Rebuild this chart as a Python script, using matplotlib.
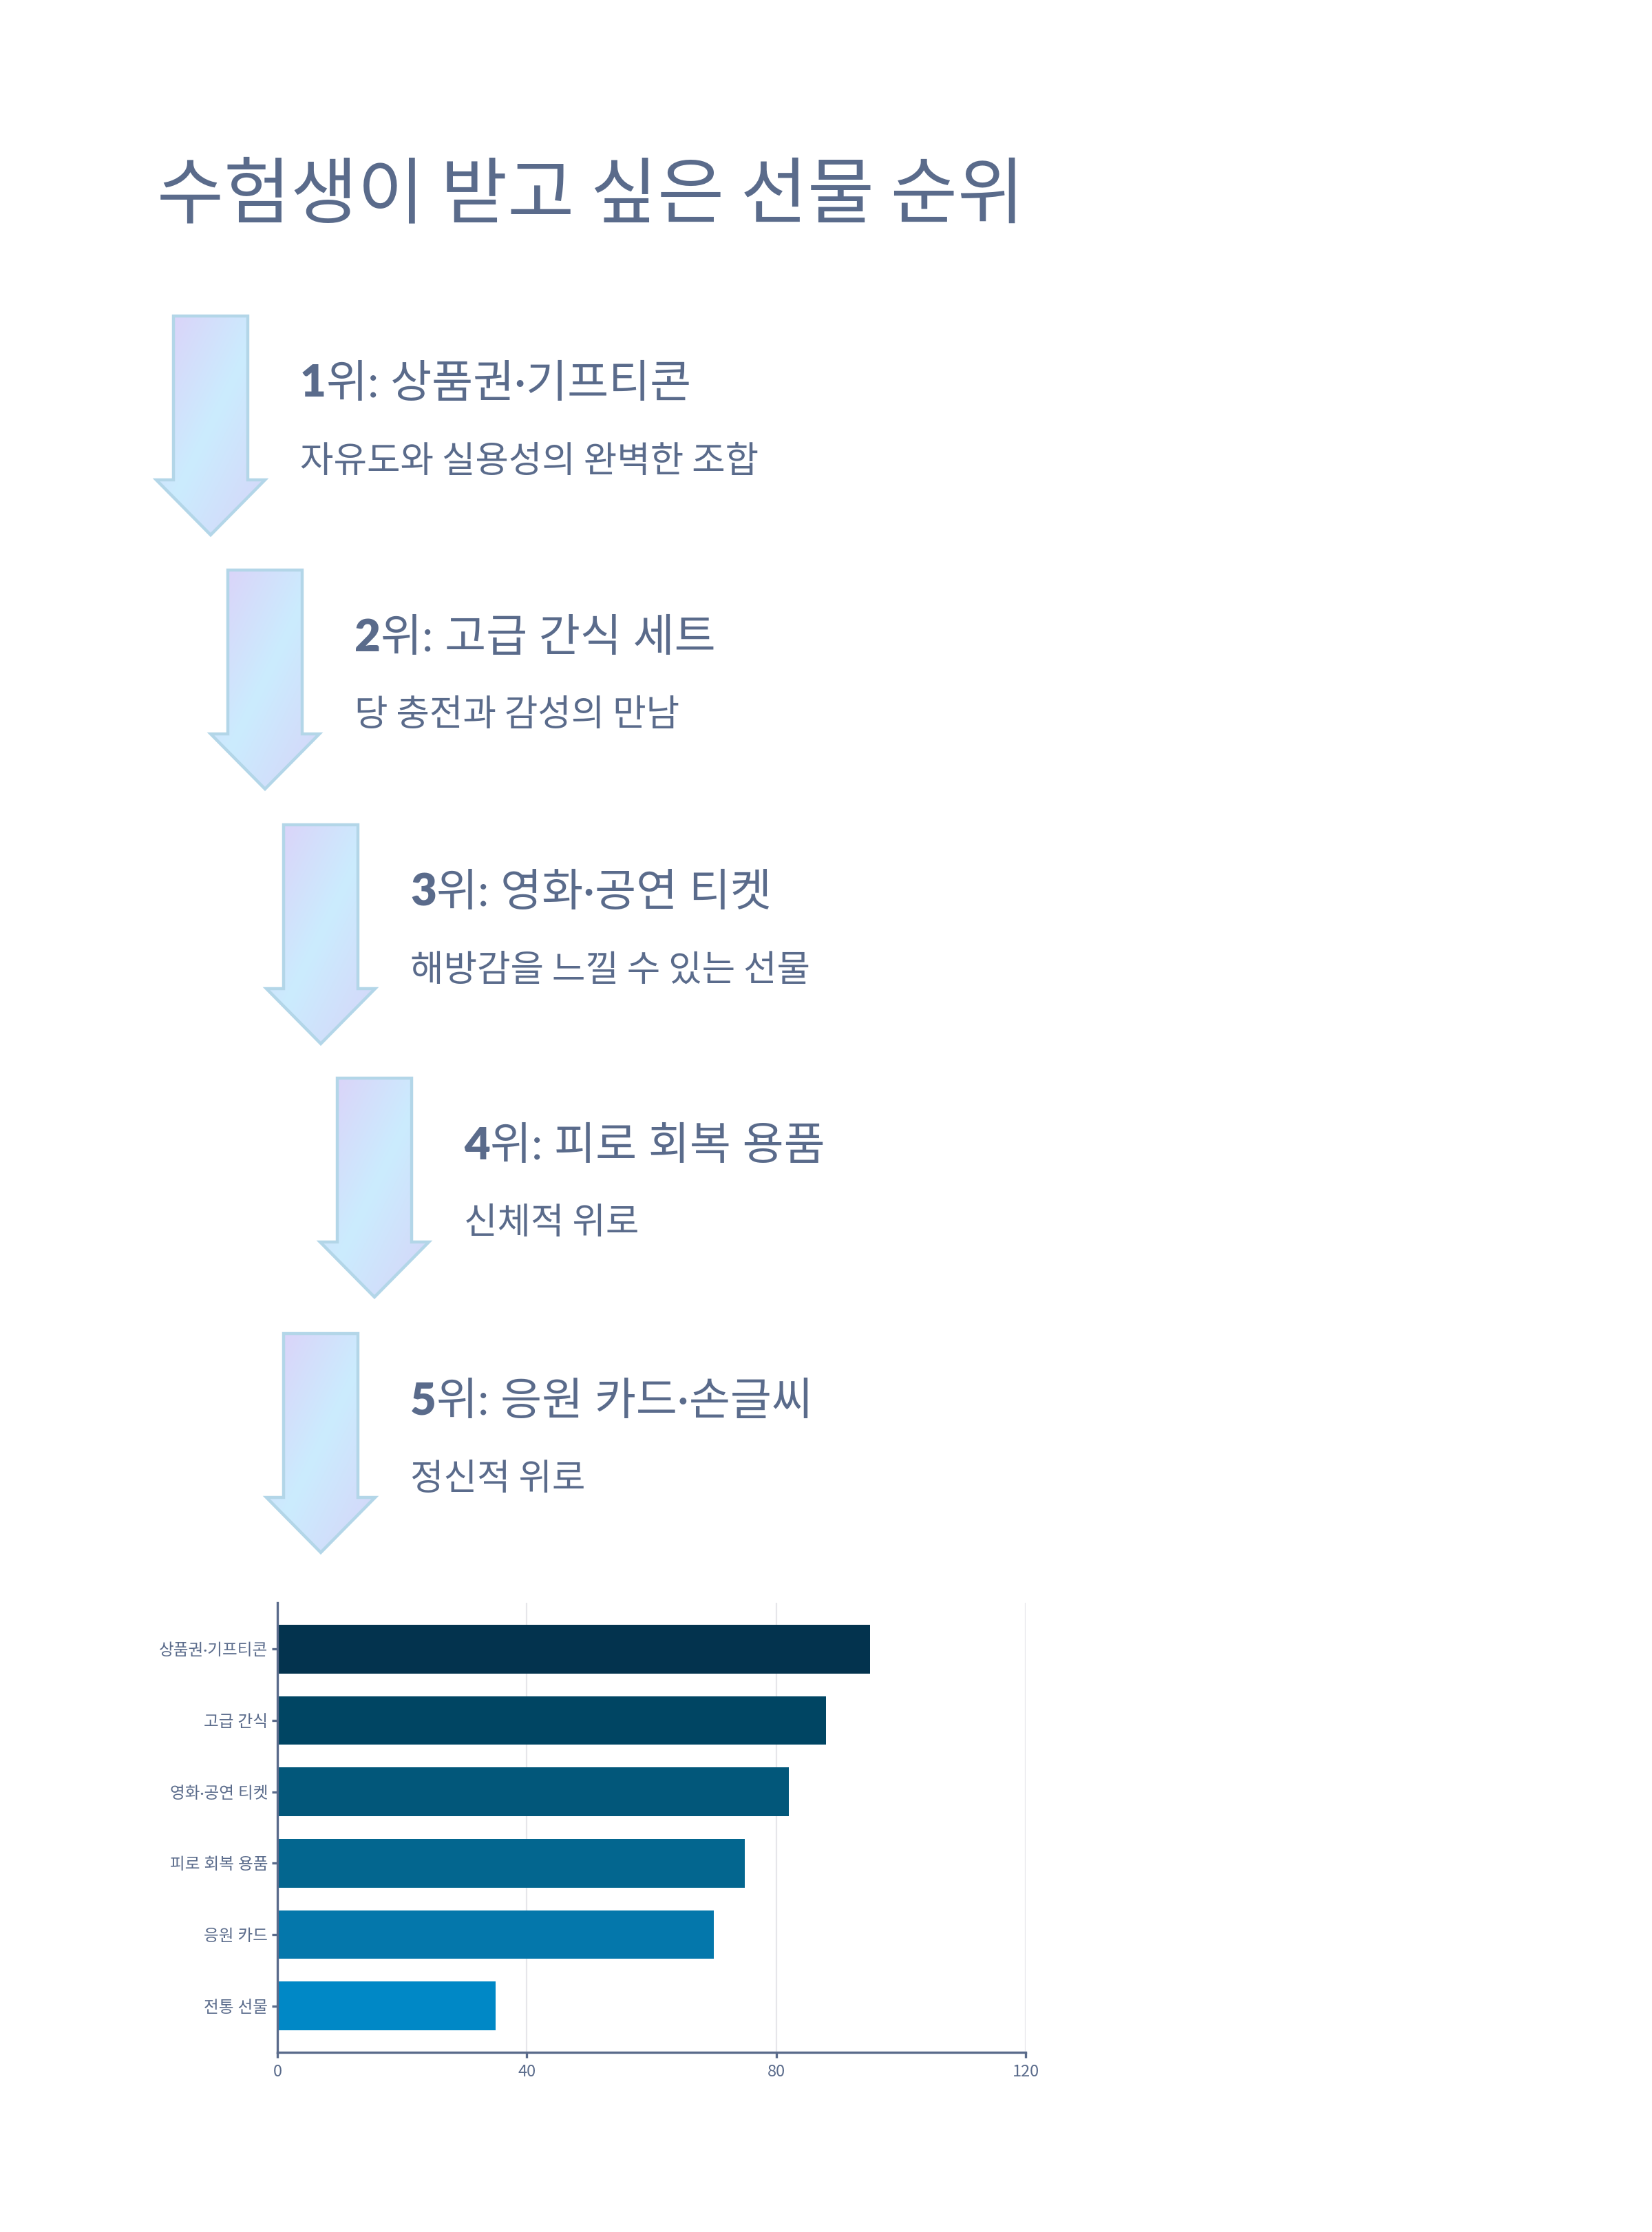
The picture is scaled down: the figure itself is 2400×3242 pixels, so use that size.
import numpy as np
import matplotlib.pyplot as plt
from matplotlib.patches import Polygon
from matplotlib.colors import LinearSegmentedColormap

plt.rcParams['font.family'] = ['Noto Sans CJK KR', 'DejaVu Sans']
mixed = ['Lato', 'Noto Sans CJK KR', 'DejaVu Sans']

# ---- data ----
title = "수험생이 받고 싶은 선물 순위"
ranks = ["1", "2", "3", "4", "5"]
headings = ["위: 상품권·기프티콘", "위: 고급 간식 세트", "위: 영화·공연 티켓",
            "위: 피로 회복 용품", "위: 응원 카드·손글씨"]
subtitles = ["자유도와 실용성의 완벽한 조합", "당 충전과 감성의 만남",
             "해방감을 느낄 수 있는 선물", "신체적 위로", "정신적 위로"]

categories = ["상품권·기프티콘", "고급 간식", "영화·공연 티켓", "피로 회복 용품", "응원 카드", "전통 선물"]
scores = [95, 88, 82, 75, 70, 35]
bar_colors = ["#03334e", "#004563", "#02577a", "#03668f", "#0477ab", "#0088c6"]
x_ticks = [0, 40, 80, 120]

# ---- layout (pixels) ----
W, H = 2400, 3242
text_color = "#5a6b8b"
shaft_left = [252, 331, 412, 490, 412]
arrow_top = [459, 828, 1198, 1566, 1937]
shaft_w, head_w, shaft_len, head_len = 108, 158, 238, 80

fig = plt.figure(figsize=(12, 16.21), dpi=200)
bg = fig.add_axes([0, 0, 1, 1])
bg.set_xlim(0, W)
bg.set_ylim(H, 0)
bg.axis('off')

bg.text(228, 285, title, fontsize=38, color=text_color, va='center', ha='left')

grad = LinearSegmentedColormap.from_list('g', ["#ddd0f8", "#cbecfe", "#d6d4f8"])
gy, gx = np.mgrid[0:1:200j, 0:1:200j]
gimg = (gx + gy) / 2

for i in range(len(ranks)):
    x0, y0 = shaft_left[i], arrow_top[i]
    cx = x0 + shaft_w / 2
    pts = [(x0, y0), (x0 + shaft_w, y0), (x0 + shaft_w, y0 + shaft_len),
           (cx + head_w / 2, y0 + shaft_len), (cx, y0 + shaft_len + head_len),
           (cx - head_w / 2, y0 + shaft_len), (x0, y0 + shaft_len)]
    poly = Polygon(pts, closed=True, facecolor='none', edgecolor='#b3d6e8', lw=1.6, zorder=3)
    bg.add_patch(poly)
    im = bg.imshow(gimg, cmap=grad, extent=(cx - head_w / 2, cx + head_w / 2,
                                            y0 + shaft_len + head_len, y0),
                   aspect='auto', zorder=2)
    im.set_clip_path(poly)

    tx = cx - head_w / 2 + 209
    t1 = bg.text(tx, y0 + 99, ranks[i], fontsize=23.5, weight='heavy', color=text_color,
                 va='center', ha='left', family=['Lato', 'DejaVu Sans'])
    bg.annotate(headings[i], xy=(1, 0.5), xycoords=t1, fontsize=23.5, color=text_color,
                va='center', ha='left', family=mixed)
    bg.text(tx, y0 + 211, subtitles[i], fontsize=19, color=text_color, va='center', ha='left')

# ---- bar chart ----
ax = fig.add_axes([403 / W, 1 - 2981 / H, 1087 / W, 653 / H])
y = np.arange(len(categories))
ax.barh(y, scores, height=0.68, color=bar_colors, zorder=2)
ax.set_ylim(len(categories) - 0.35, -0.65)
ax.set_xlim(0, 120)
ax.set_xticks(x_ticks)
ax.set_yticks(y)
ax.set_yticklabels(categories, family=mixed)
ax.grid(axis='x', color='#e6e6ea', lw=0.8, zorder=0)
for s in ['top', 'right']:
    ax.spines[s].set_visible(False)
for s in ['left', 'bottom']:
    ax.spines[s].set_color(text_color)
    ax.spines[s].set_linewidth(1.2)
ax.tick_params(axis='y', colors=text_color, labelsize=8.5, length=3, width=1.2, pad=2)
ax.tick_params(axis='x', colors=text_color, labelsize=8.5, length=3, width=1.2, pad=3)

fig.savefig('out.png', dpi=200)
